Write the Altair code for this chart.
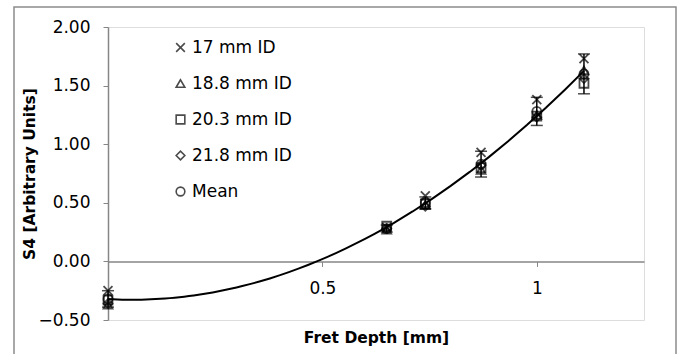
import altair as alt
import pandas as pd

# Fret depth positions (mm)
depth = [0.0, 0.65, 0.74, 0.87, 1.0, 1.11]

# S4 values for each tube inner diameter
s4_17 = [-0.25, 0.29, 0.56, 0.93, 1.38, 1.73]
s4_188 = [-0.37, 0.27, 0.48, 0.78, 1.25, 1.63]
s4_203 = [-0.33, 0.30, 0.49, 0.80, 1.24, 1.52]
s4_218 = [-0.36, 0.28, 0.47, 0.82, 1.23, 1.56]
s4_mean = [-0.32, 0.28, 0.50, 0.83, 1.28, 1.60]
mean_err = [0.07, 0.03, 0.05, 0.11, 0.12, 0.17]

series_names = ["17 mm ID", "18.8 mm ID", "20.3 mm ID", "21.8 mm ID", "Mean"]
series_values = [s4_17, s4_188, s4_203, s4_218, s4_mean]

rows = []
for name, vals in zip(series_names, series_values):
    for d, v in zip(depth, vals):
        rows.append({"depth": d, "s4": v, "series": name})
points_df = pd.DataFrame(rows)

err_df = pd.DataFrame({
    "depth": depth,
    "lo": [m - e for m, e in zip(s4_mean, mean_err)],
    "hi": [m + e for m, e in zip(s4_mean, mean_err)],
})

FONT = "DejaVu Sans"
AXIS_GREY = "#868686"
X_SHAPE = "M-1,-1L1,1M-1,1L1,-1"

x_scale = alt.Scale(domain=[0, 1.25], nice=False, zero=False)
y_scale = alt.Scale(domain=[-0.5, 2.0], nice=False, zero=False)

x_enc = alt.X(
    "depth:Q", scale=x_scale,
    axis=alt.Axis(
        title="Fret Depth [mm]", values=[0.5, 1], format="~g",
        offset=-58.6, grid=False, domainColor=AXIS_GREY, tickColor=AXIS_GREY,
        tickSize=5, labelFontSize=17, labelPadding=14, titleFontSize=15.5,
        titleFontWeight="bold", titlePadding=34, labelFont=FONT, titleFont=FONT,
        labelColor="black", titleColor="black", domainWidth=1.5,
    ),
)
y_axis = alt.Axis(
    title="S4 [Arbitrary Units]", values=[-0.5, 0, 0.5, 1.0, 1.5, 2.0],
    format=".2f", grid=False, domainColor=AXIS_GREY, tickColor=AXIS_GREY,
    tickSize=5, labelFontSize=17, labelPadding=13, titleFontSize=15.5,
    titleFontWeight="bold", titlePadding=0, labelFont=FONT, titleFont=FONT,
    labelColor="black", titleColor="black", domainWidth=1.5,
)

base = alt.Chart(points_df)

# Outer chart frame
frame = alt.Chart(pd.DataFrame({"k": [0]})).mark_rect(
    fill=None, stroke="#8c8c8c", strokeWidth=1.5
).encode(
    x=alt.value(-94), x2=alt.value(568), y=alt.value(-20), y2=alt.value(380)
)

# Quadratic trend line through the mean values
trend = base.transform_filter(
    alt.datum.series == "Mean"
).transform_regression(
    "depth", "s4", method="poly", order=2, extent=[0, 1.11]
).mark_line(color="black", strokeWidth=2).encode(
    x=x_enc, y=alt.Y("s4:Q", scale=y_scale, axis=y_axis)
)

err_rule = alt.Chart(err_df).mark_rule(color="black", strokeWidth=1.5).encode(
    x=alt.X("depth:Q", scale=x_scale),
    y=alt.Y("lo:Q", scale=y_scale),
    y2="hi:Q",
)
err_lo = alt.Chart(err_df).mark_tick(
    color="black", orient="horizontal", size=12, thickness=1.5
).encode(x=alt.X("depth:Q", scale=x_scale), y=alt.Y("lo:Q", scale=y_scale))
err_hi = alt.Chart(err_df).mark_tick(
    color="black", orient="horizontal", size=12, thickness=1.5
).encode(x=alt.X("depth:Q", scale=x_scale), y=alt.Y("hi:Q", scale=y_scale))

pts = base.mark_point(filled=False, color="black", strokeWidth=1.8, size=80).encode(
    x=alt.X("depth:Q", scale=x_scale),
    y=alt.Y("s4:Q", scale=y_scale),
    shape=alt.Shape(
        "series:N",
        scale=alt.Scale(
            domain=series_names,
            range=[X_SHAPE, "triangle-up", "square", "diamond", "circle"],
        ),
        legend=alt.Legend(
            title=None, orient="none", legendX=64, legendY=12, padding=0,
            labelFontSize=17, labelFont=FONT, labelColor="black",
            symbolStrokeColor="black", symbolFillColor="transparent",
            symbolStrokeWidth=1.6, symbolSize=75, rowPadding=18,
            labelOffset=3,
        ),
    ),
)

chart = alt.layer(frame, trend, err_rule, err_lo, err_hi, pts).properties(
    width=536, height=293,
    autosize=alt.AutoSizeParams(type="none"),
    padding={"left": 108, "top": 27, "right": 34, "bottom": 34},
).configure_view(stroke=None).configure(background="white")

chart.save("out.html", embed_options={"renderer": "svg", "actions": False})
